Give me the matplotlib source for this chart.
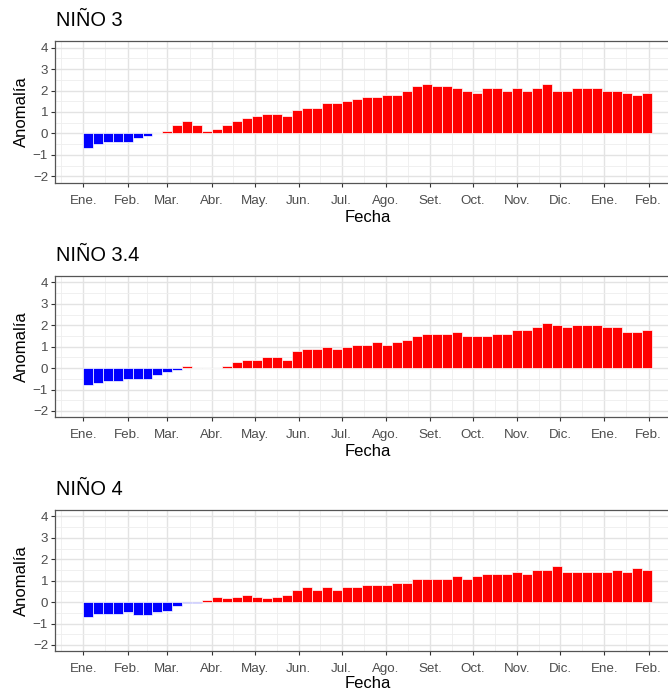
import matplotlib
matplotlib.use('Agg')
import matplotlib.pyplot as plt
import matplotlib.dates as mdates
from matplotlib.ticker import FixedLocator, MultipleLocator
import numpy as np
import pandas as pd

plt.rcParams["font.family"] = ["Liberation Sans", "DejaVu Sans"]

# ================== 数据 (semanal, centrada en miércoles) ==================
semanas = pd.date_range("2023-01-04", periods=57, freq="7D")

nino3 = [-0.7, -0.5, -0.4, -0.4, -0.4, -0.2, -0.1, 0.0, 0.1, 0.4, 0.6, 0.4,
         0.1, 0.2, 0.4, 0.6, 0.7, 0.8, 0.9, 0.9, 0.8, 1.1, 1.2, 1.2,
         1.4, 1.4, 1.5, 1.6, 1.7, 1.7, 1.8, 1.8, 2.0, 2.2, 2.3, 2.2,
         2.2, 2.1, 2.0, 1.9, 2.1, 2.1, 2.0, 2.1, 2.0, 2.1, 2.3, 2.0,
         2.0, 2.1, 2.1, 2.1, 2.0, 2.0, 1.9, 1.8, 1.9]

nino34 = [-0.8, -0.7, -0.6, -0.6, -0.5, -0.5, -0.5, -0.3, -0.2, -0.1, 0.1, 0.0,
          0.0, 0.0, 0.1, 0.3, 0.4, 0.4, 0.5, 0.5, 0.4, 0.8, 0.9, 0.9,
          1.0, 0.9, 1.0, 1.1, 1.1, 1.2, 1.1, 1.2, 1.3, 1.5, 1.6, 1.6,
          1.6, 1.7, 1.5, 1.5, 1.5, 1.6, 1.6, 1.8, 1.8, 1.9, 2.1, 2.0,
          1.9, 2.0, 2.0, 2.0, 1.9, 1.9, 1.7, 1.7, 1.8]

nino4 = [-0.7, -0.55, -0.55, -0.55, -0.45, -0.6, -0.6, -0.45, -0.4, -0.2, -0.05, -0.05,
         0.1, 0.25, 0.2, 0.25, 0.35, 0.25, 0.2, 0.25, 0.35, 0.55, 0.7, 0.55,
         0.7, 0.55, 0.7, 0.7, 0.8, 0.8, 0.8, 0.9, 0.9, 1.1, 1.1, 1.1,
         1.1, 1.2, 1.1, 1.2, 1.3, 1.3, 1.3, 1.4, 1.3, 1.5, 1.5, 1.7,
         1.4, 1.4, 1.4, 1.4, 1.4, 1.5, 1.4, 1.6, 1.5]

meses = ["Ene.", "Feb.", "Mar.", "Abr.", "May.", "Jun.", "Jul.",
         "Ago.", "Set.", "Oct.", "Nov.", "Dic.", "Ene.", "Feb."]
meses_fechas = pd.date_range("2023-01-01", "2024-02-01", freq="MS")

paneles = [("NIÑO 3", nino3), ("NIÑO 3.4", nino34), ("NIÑO 4", nino4)]

# ================== 布局 ==================
W, H = 668, 691
fig = plt.figure(figsize=(W / 100, H / 100), dpi=100)

izq, der = 55, 680          # el panel original queda recortado a la derecha
alto = 141.4
tops = [41.3, 276.0, 510.0]

GRIS_TXT = "#4D4D4D"

# minor grid: mitad de cada mes (como ggplot)
mayores = mdates.date2num(meses_fechas)
extra_izq = mdates.date2num(pd.Timestamp("2022-12-16 12:00"))
extra_der = mdates.date2num(pd.Timestamp("2024-02-15"))
menores = np.concatenate([[extra_izq], (mayores[:-1] + mayores[1:]) / 2, [extra_der]])

for i, ((titulo, valores), top) in enumerate(zip(paneles, tops)):
    ax = fig.add_axes([izq / W, (H - top - alto) / H, (der - izq) / W, alto / H])

    valores = np.array(valores)
    colores = np.where(valores >= 0, "#FF0000", "#0000FF")
    ax.bar(semanas, valores, width=7, color=colores, edgecolor="white",
           linewidth=0.5, zorder=3)

    ax.set_xlim(pd.Timestamp("2022-12-12 05:00"), pd.Timestamp("2024-02-23"))
    ax.set_ylim(-2.3, 4.3)

    ax.xaxis.set_major_locator(FixedLocator(mayores))
    ax.xaxis.set_minor_locator(FixedLocator(menores))
    ax.set_xticklabels(meses)
    ax.yaxis.set_major_locator(MultipleLocator(1))
    ax.yaxis.set_minor_locator(MultipleLocator(0.5))

    ax.grid(which="major", color="#E3E3E3", linewidth=1.0, zorder=0)
    ax.grid(which="minor", color="#EEEEEE", linewidth=0.6, zorder=0)
    ax.set_axisbelow(True)

    ax.tick_params(which="major", length=3, width=0.8, color="#333333",
                   labelsize=9.6, labelcolor=GRIS_TXT)
    ax.tick_params(axis="x", which="major", pad=5.5)
    ax.tick_params(axis="y", which="major", pad=2.0)
    ax.tick_params(which="minor", length=0)
    for s in ax.spines.values():
        s.set_color("#555555")
        s.set_linewidth(0.9)

    ax.annotate(titulo, xy=(0, 1), xycoords="axes fraction",
                xytext=(0.5, 15), textcoords="offset points",
                ha="left", va="center", fontsize=14.4, color="black")
    # el último "Fecha" queda al ras del borde inferior
    dy = -24.7 if i < 2 else -23.0
    ax.annotate("Fecha", xy=(0.5, 0), xycoords="axes fraction",
                xytext=(0, dy), textcoords="offset points",
                ha="center", va="center", fontsize=12, color="black")
    ax.annotate("Anomalía", xy=(0, 0.5), xycoords="axes fraction",
                xytext=(-24.2, 0), textcoords="offset points",
                ha="center", va="center", rotation=90, fontsize=12, color="black")

fig.savefig("out.png", dpi=100, facecolor="white")
